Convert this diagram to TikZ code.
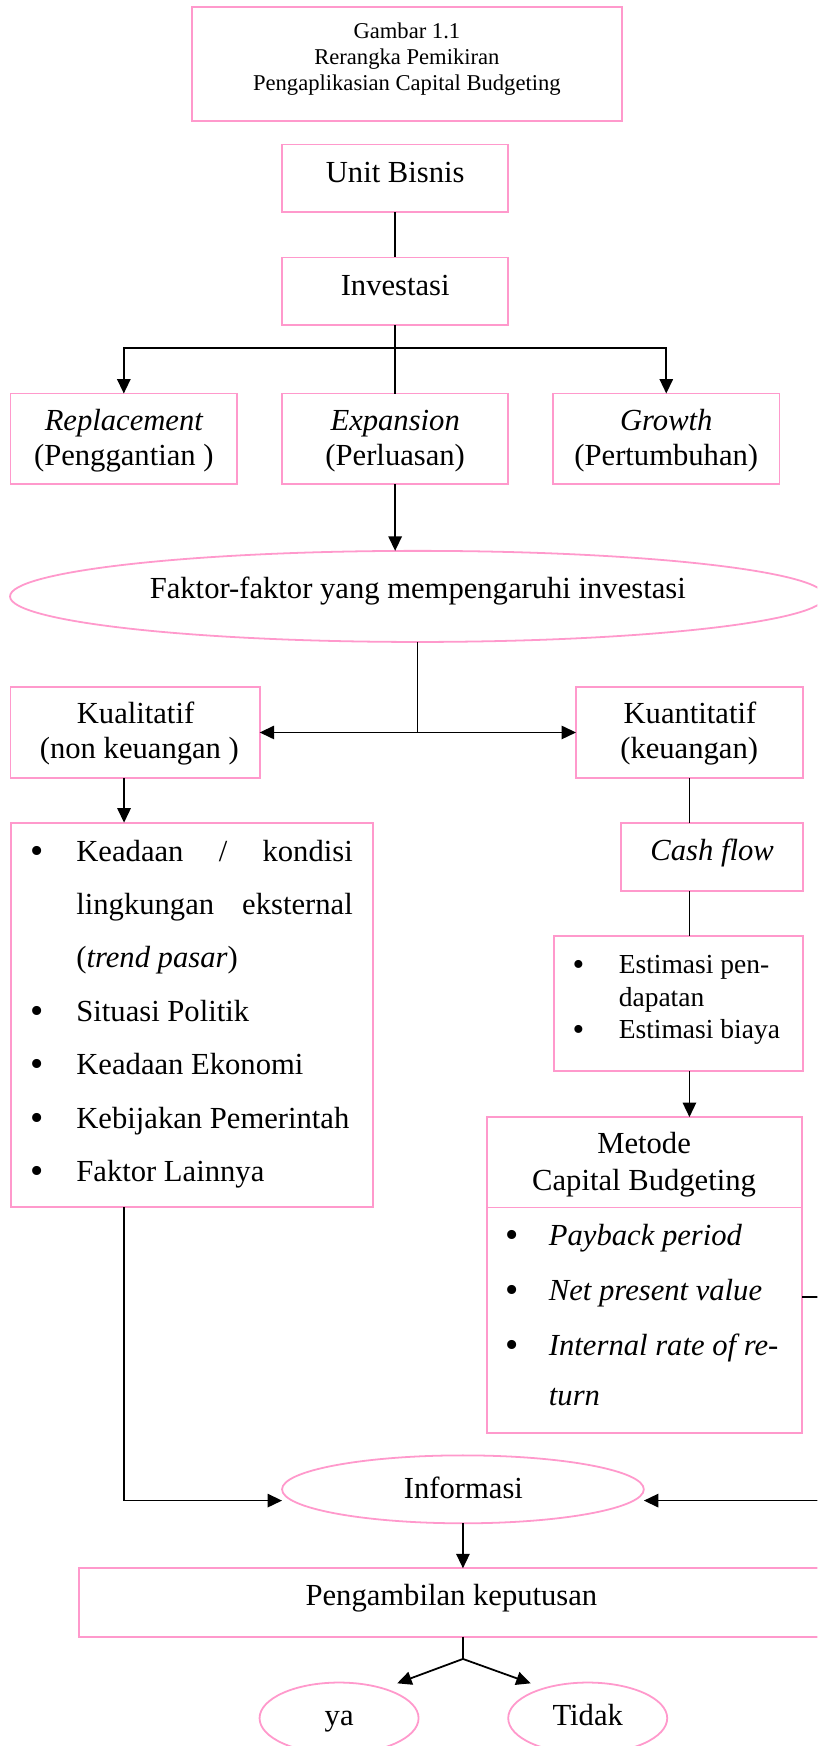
\documentclass[tikz,border=0pt]{standalone}
\usepackage{fontspec}
\setmainfont{Liberation Serif}
\usetikzlibrary{arrows.meta,shapes.geometric}
\definecolor{pinkc}{RGB}{255,153,204}
\newcommand\fsmain{\fontsize{27.5}{31.5}\selectfont}
\newcommand\fstitle{\fontsize{20.3}{23.3}\selectfont}
\newcommand\fsest{\fontsize{24.7}{29.2}\selectfont}
\newcommand\fsbul{\fontsize{34}{36}\selectfont}
\newcommand\fsebul{\fontsize{30}{32}\selectfont}
\begin{document}
\begin{tikzpicture}[x=1pt,y=-1pt,
  pbox/.style={draw=pinkc,line width=1.6pt,rectangle,inner sep=0pt,outer sep=0pt},
  pell/.style={draw=pinkc,line width=1.6pt,ellipse,inner sep=0pt,outer sep=0pt},
  conn/.style={draw=black,line width=1.6pt},
  arr/.style={conn,-{Triangle[length=13pt,width=12pt]}},
  txt/.style={anchor=base,inner sep=0pt,outer sep=0pt,font=\fsmain},
  ltxt/.style={anchor=base west,inner sep=0pt,outer sep=0pt,font=\fsmain},
  etxt/.style={anchor=base west,inner sep=0pt,outer sep=0pt,font=\fsest},
  bul/.style={anchor=base,inner sep=0pt,outer sep=0pt,font=\fsbul,yshift=-2pt},
  ebul/.style={anchor=base,inner sep=0pt,outer sep=0pt,font=\fsebul,yshift=-2pt}]
\useasboundingbox (0,0) rectangle (734,1568);
\clip (0,0) rectangle (734,1568);
\fill[white] (0,0) rectangle (734,1568);

% title
\node[pbox,minimum width=386.3pt,minimum height=101.8pt] (title) at (365.35,57.5) {};
\node[inner sep=0pt,align=center,font=\fstitle] (titletext) at (365.4,52.9) {Gambar 1.1\\Rerangka Pemikiran\\Pengaplikasian Capital Budgeting};

% unit, investasi
\node[pbox,minimum width=203.1pt,minimum height=60.8pt] (unit) at (354.85,160.1) {};
\node[txt] (unitt) at (354.9,163.8) {Unit Bisnis};
\node[pbox,minimum width=203.1pt,minimum height=60.8pt] (inv) at (354.85,261.6) {};
\node[txt] (invt) at (354.9,265.0) {Investasi};

% three types
\node[pbox,minimum width=203.6pt,minimum height=81.4pt] (rep) at (111.2,394.1) {};
\node[txt] (rept1) at (111.2,386.3) {\itshape Replacement};
\node[txt] (rept2) at (111.2,417.8) {(Penggantian )};
\node[pbox,minimum width=203.1pt,minimum height=81.4pt] (exp) at (354.85,394.1) {};
\node[txt] (expt1) at (354.9,386.3) {\itshape Expansion};
\node[txt] (expt2) at (354.9,417.8) {(Perluasan)};
\node[pbox,minimum width=203.3pt,minimum height=81.4pt] (gro) at (598.35,394.1) {};
\node[txt] (grot1) at (598.35,386.3) {\itshape Growth};
\node[txt] (grot2) at (598.35,417.8) {(Pertumbuhan)};

% faktor ellipse
\node[pell,minimum width=732pt,minimum height=81.8pt] (fak) at (375,535.6) {};
\node[txt] (fakt) at (375.2,537.5) {Faktor-faktor yang mempengaruhi investasi};

% kualitatif / kuantitatif
\node[pbox,minimum width=223.8pt,minimum height=81.8pt] (kual) at (121.3,657.8) {};
\node[txt] (kualt1) at (121.7,649.8) {Kualitatif};
\node[txt] (kualt2) at (125.2,681.3) {(non keuangan )};
\node[pbox,minimum width=203.7pt,minimum height=81.8pt] (kuan) at (619.15,657.8) {};
\node[txt] (kuant1) at (619.6,649.8) {Kuantitatif};
\node[txt] (kuant2) at (618.9,681.3) {(keuangan)};

% left list
\node[pbox,minimum width=325.2pt,minimum height=345.3pt] (list) at (172.2,911.45) {};
\node[bul] (lb1) at (33,773.5) {•};
\node[ltxt] (l1) at (68.6,773.5) {\makebox[248.2pt][s]{Keadaan / kondisi}};
\node[ltxt] (l2) at (68.6,821.4) {\makebox[248.2pt][s]{lingkungan eksternal}};
\node[ltxt] (l3) at (68.6,869.3) {(\textit{trend pasar})};
\node[bul] (lb4) at (33,917.2) {•};
\node[ltxt] (l4) at (68.6,917.2) {Situasi Politik};
\node[bul] (lb5) at (33,965.1) {•};
\node[ltxt] (l5) at (68.6,965.1) {Keadaan Ekonomi};
\node[bul] (lb6) at (33,1013) {•};
\node[ltxt] (l6) at (68.6,1013) {Kebijakan Pemerintah};
\node[bul] (lb7) at (33,1060.9) {•};
\node[ltxt] (l7) at (68.6,1060.9) {Faktor Lainnya};

% cash flow
\node[pbox,minimum width=163pt,minimum height=61.2pt] (cash) at (639.5,769.6) {};
\node[txt] (casht) at (639.5,772.6) {\itshape Cash flow};

% estimasi
\node[pbox,minimum width=223.6pt,minimum height=121.3pt] (est) at (609,901.25) {};
\node[ebul] (eb1) at (519.6,874.4) {•};
\node[etxt] (e1) at (555.7,874.4) {Estimasi pen-};
\node[etxt] (e2) at (555.7,903.6) {dapatan};
\node[ebul] (eb3) at (519.6,932.8) {•};
\node[etxt] (e3) at (555.7,932.8) {Estimasi biaya};

% metode
\node[pbox,minimum width=283.5pt,minimum height=283.6pt] (met) at (578.75,1145) {};
\draw[draw=pinkc,line width=1.6pt] ([yshift=-81.2pt]met.north west) -- ([yshift=-81.2pt]met.north east);
\node[txt] (mett1) at (578.4,1035.6) {Metode};
\node[txt] (mett2) at (578.4,1069.1) {Capital Budgeting};
\node[bul] (mb1) at (460,1118.5) {•};
\node[ltxt] (m1) at (493,1118.5) {\itshape Payback period};
\node[bul] (mb2) at (460,1167.9) {•};
\node[ltxt] (m2) at (493,1167.9) {\itshape Net present value};
\node[bul] (mb3) at (460,1217.3) {•};
\node[ltxt] (m3) at (493,1217.3) {\itshape Internal rate of re-};
\node[ltxt] (m4) at (493,1262.3) {\itshape turn};

% informasi, keputusan
\node[pell,minimum width=324.9pt,minimum height=61pt] (info) at (415.75,1337.5) {};
\node[txt] (infot) at (416.2,1346.1) {Informasi};
\node[pbox,minimum width=669.3pt,minimum height=61.4pt] (peng) at (405.35,1439.1) {};
\node[txt] (pengt) at (405.4,1441.9) {Pengambilan keputusan};
\node[pell,minimum width=142.8pt,minimum height=64pt] (ya) at (304.5,1543) {};
\node[txt] (yat) at (304.6,1549.7) {ya};
\node[pell,minimum width=142.8pt,minimum height=64pt] (tidak) at (527.8,1543) {};
\node[txt] (tidakt) at (527.8,1549.7) {Tidak};

% connectors
\draw[conn] (unit.south) -- (inv.north);
\coordinate (j1) at (354.85,312.6);
\draw[conn] (inv.south) -- (j1) -- (exp.north);
\draw[arr] (j1) -| (rep.north);
\draw[arr] (j1) -| (gro.north);
\draw[arr] (exp.south) -- (exp.south |- fak.north);
\coordinate (j2) at (fak.south |- kual.east);
\draw[conn] (fak.south) -- (j2);
\draw[arr] (j2) -- (kual.east);
\draw[arr] (j2) -- (kuan.west);
\draw[arr] ([xshift=-9.9pt]kual.south) -- ([xshift=-9.9pt]kual.south |- list.north);
\draw[conn] (kuan.south) -- (kuan.south |- cash.north);
\draw[conn] (kuan.south |- cash.south) -- (kuan.south |- est.north);
\draw[arr] (kuan.south |- est.south) -- (kuan.south |- met.north);
\draw[arr] ([xshift=-60.5pt]list.south) |- ([yshift=-10.1pt]info.west);
\coordinate (offr) at (770,1165);
\draw[arr] ([yshift=-20pt]met.east) -- (offr) |- ([yshift=-10.1pt]info.east);
\draw[arr] (info.south) -- (info.south |- peng.north);
\coordinate (j3) at (415.75,1489.8);
\draw[conn] (info.south |- peng.south) -- (j3);
\coordinate (yatip) at (356.7,1511.7);
\coordinate (tdtip) at (476.6,1511.7);
\draw[arr] (j3) -- (yatip);
\draw[arr] (j3) -- (tdtip);
\end{tikzpicture}
\end{document}
